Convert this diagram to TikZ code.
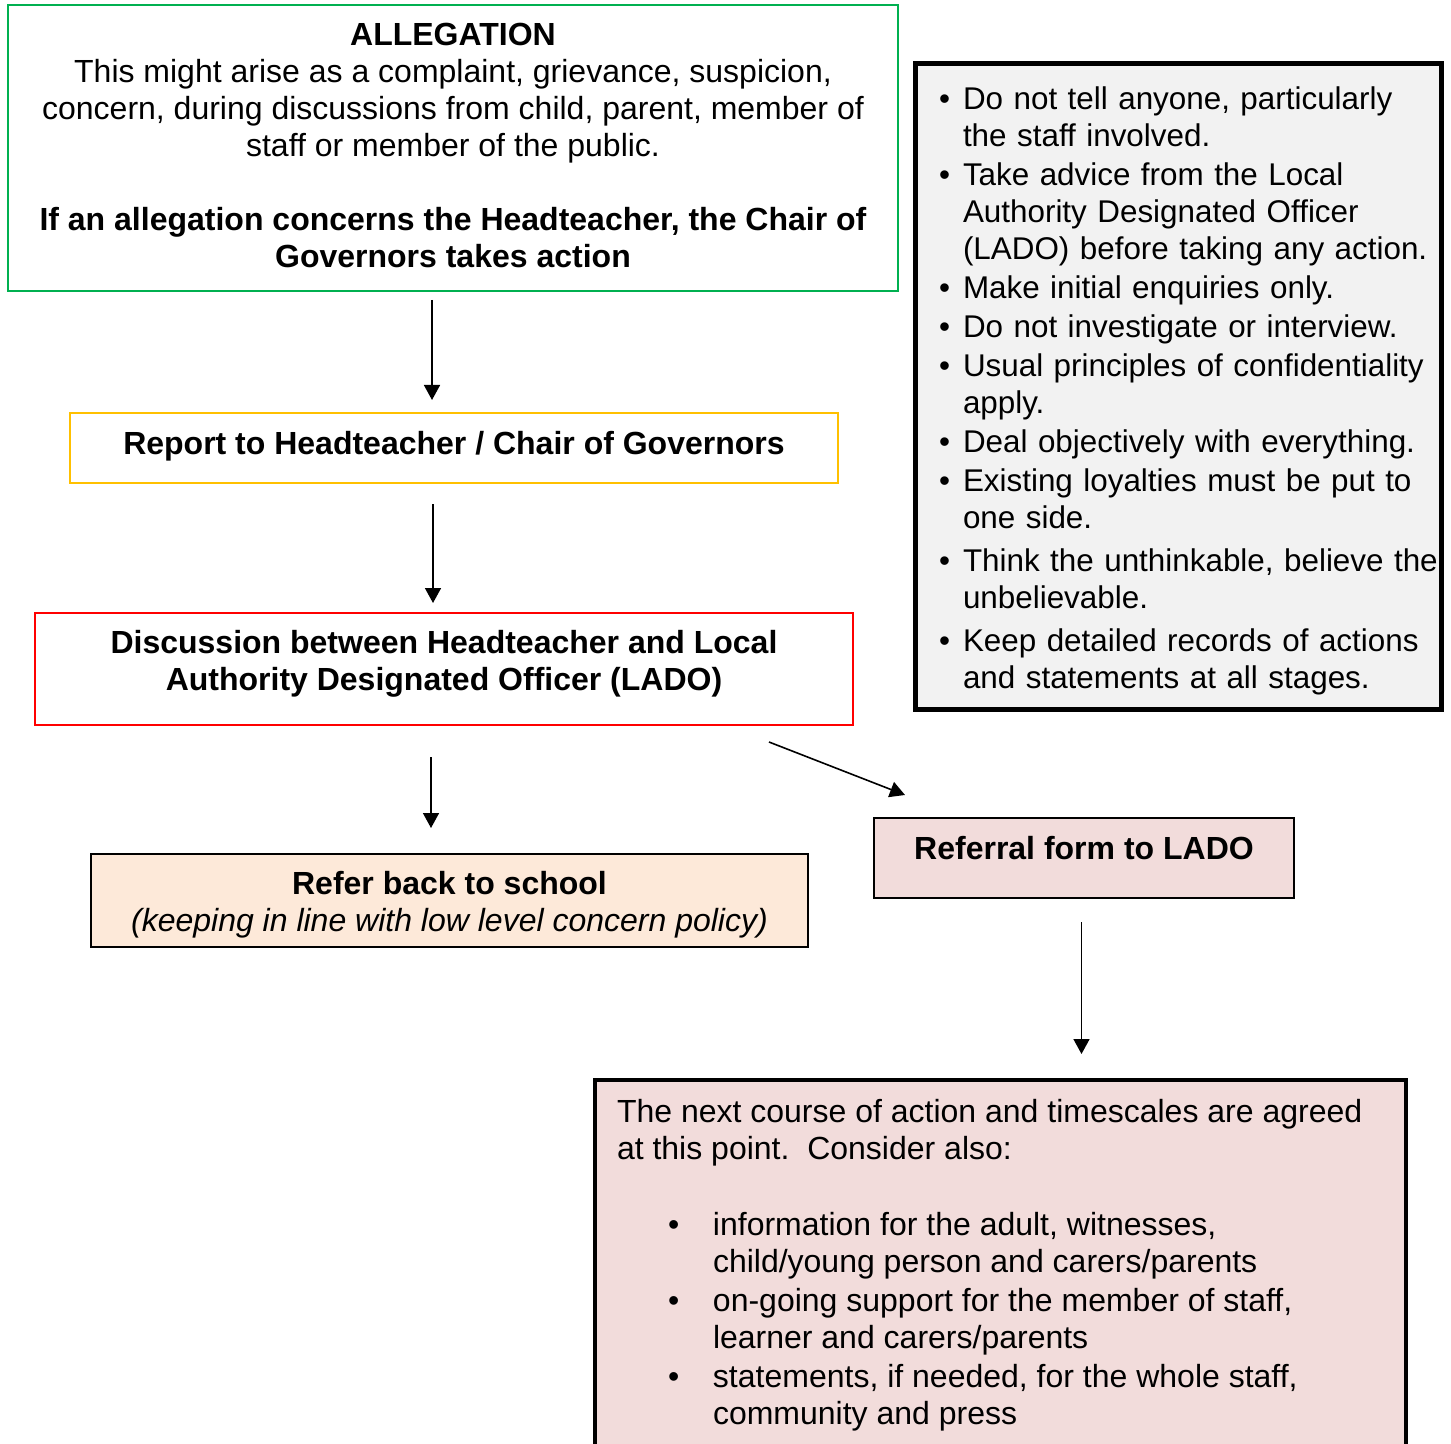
\documentclass[tikz,border=0pt]{standalone}
\usepackage{fontspec}
\setmainfont{Liberation Sans}
\usetikzlibrary{arrows.meta}

\definecolor{allegGreen}{HTML}{00B050}
\definecolor{reportAmber}{HTML}{FFC000}
\definecolor{discRed}{HTML}{FF0000}
\definecolor{ruleGrey}{HTML}{F2F2F2}
\definecolor{referPeach}{HTML}{FDE9D9}
\definecolor{ladoPink}{HTML}{F2DCDB}

% extra depth under the last line, to lift the text a little
\newcommand{\lift}[1]{\rule[-#1]{0pt}{0pt}}

\begin{document}
\begin{tikzpicture}[x=0.5pt,y=-0.5pt,
  every node/.style={font=\fontsize{16}{18.5}\selectfont},
  box/.style={draw,rectangle,line width=1pt,align=center,inner sep=0pt},
  arr/.style={-{Triangle[length=7.5pt,width=8pt]},line width=0.8pt}]
\useasboundingbox (0,0) rectangle (1451,1444);
\clip (0,0) rectangle (1451,1444);

\path (453,148) node[box,draw=allegGreen,minimum width=445pt,minimum height=143pt](alleg){\textbf{ALLEGATION}\\
This might arise as a complaint, grievance, suspicion,\\
concern, during discussions from child, parent, member of\\
staff or member of the public.\\[18.5pt]
\textbf{If an allegation concerns the Headteacher, the Chair of}\\
\textbf{Governors takes action}\lift{3pt}}
(454,448) node[box,draw=reportAmber,minimum width=384pt,minimum height=35pt](report){\textbf{Report to Headteacher / Chair of Governors}\lift{5.5pt}}
(444,669) node[box,draw=discRed,minimum width=409pt,minimum height=56pt](disc){\textbf{Discussion between Headteacher and Local}\\
\textbf{Authority Designated Officer (LADO)}\lift{8.7pt}}
(449.5,900.5) node[box,fill=referPeach,minimum width=358.5pt,minimum height=46.5pt](refer){\rule{0pt}{15.7pt}\textbf{Refer back to school}\\
\textit{(keeping in line with low level concern policy)}}
(1084,858) node[box,fill=ladoPink,minimum width=210pt,minimum height=40pt](referral){\textbf{Referral form to LADO}\lift{10.2pt}};

% what to do and not to do
\node[draw,line width=2.5pt,fill=ruleGrey,minimum width=263pt,minimum height=323pt,
  text width=239pt,align=left,inner xsep=12pt,inner ysep=0pt,
  font=\fontsize{15.7}{18.5}\selectfont](rules) at (1178,386.75){%
\begin{tabular}{@{}p{12pt}@{}l@{}}
\textbullet & \rule{0pt}{17.95pt}Do not tell anyone, particularly\\
 & the staff involved.\\[1pt]
\textbullet & Take advice from the Local\\
 & Authority Designated Officer\\
 & (LADO) before taking any action.\\[1pt]
\textbullet & Make initial enquiries only.\\[1pt]
\textbullet & Do not investigate or interview.\\[1pt]
\textbullet & Usual principles of confidentiality\\
 & apply.\\[1pt]
\textbullet & Deal objectively with everything.\\[1pt]
\textbullet & Existing loyalties must be put to\\
 & one side.\\[3pt]
\textbullet & Think the unthinkable, believe the\\
 & unbelievable.\\[3pt]
\textbullet & Keep detailed records of actions\\
 & and statements at all stages.
\end{tabular}};

% next steps, runs off the page
\node[draw,line width=2pt,fill=ladoPink,inner xsep=11pt,inner ysep=0pt,anchor=north](next) at (1000.5,1078){%
\parbox[c][210pt][t]{383.5pt}{\vspace*{8.5pt}%
\begin{tabular}{@{\hspace{25.5pt}}p{22.5pt}@{}l@{}}
\multicolumn{2}{@{}l@{}}{The next course of action and timescales are agreed}\\
\multicolumn{2}{@{}l@{}}{at this point.\ \ Consider also:}\\[19.5pt]
\textbullet & information for the adult, witnesses,\\
 & child/young person and carers/parents\\[1pt]
\textbullet & on-going support for the member of staff,\\
 & learner and carers/parents\\[1pt]
\textbullet & statements, if needed, for the whole staff,\\
 & community and press
\end{tabular}}};

\draw[arr,shorten <=4pt,shorten >=6pt] ([xshift=-10.5pt]alleg.south) -- ([xshift=-11pt]report.north);
\draw[arr,shorten <=10pt,shorten >=4.5pt] ([xshift=-10.5pt]report.south) -- ([xshift=-5.5pt]disc.north);
\draw[arr,shorten <=15.5pt,shorten >=12.5pt] ([xshift=-6.5pt]disc.south) -- ([xshift=-9.25pt]refer.north);
\draw[arr] ([xshift=-42.5pt,yshift=-8pt]disc.south east) -- ([xshift=16pt,yshift=11pt]referral.north west);
\draw[arr,shorten <=11.5pt,shorten >=12pt] ([xshift=-1.25pt]referral.south) -- ([xshift=40.5pt]next.north);
\end{tikzpicture}
\end{document}
